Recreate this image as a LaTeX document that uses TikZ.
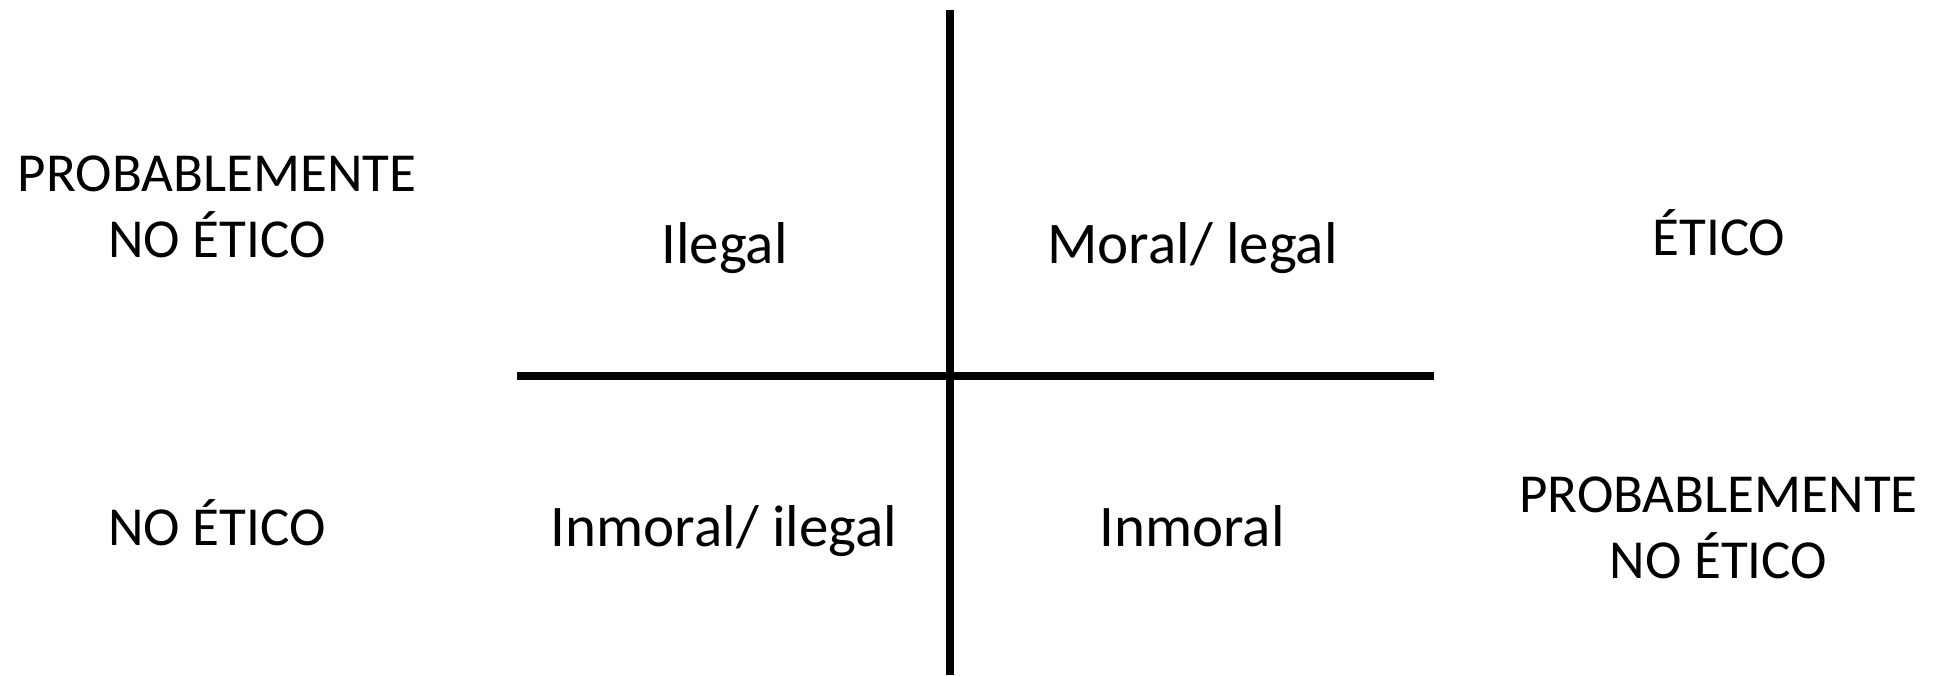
\documentclass[tikz,border=0pt]{standalone}
\usepackage{fontspec}
\setmainfont{Carlito}
\begin{document}
\begin{tikzpicture}[x=1pt,y=1pt,
  lbl/.style={inner sep=0pt,anchor=base,font=\fontsize{55}{66}\selectfont,align=center},
  qlbl/.style={lbl,font=\fontsize{59}{70}\selectfont},
  axis/.style={line width=8pt,line cap=butt}]
\useasboundingbox (0,0) rectangle (1942,675);
\coordinate (vtop) at (950,665);
\coordinate (vbot) at (950,0);
\coordinate (hl) at (517,299);
\coordinate (hr) at (1434,299);
\draw[axis] (vtop) -- (vbot);
\draw[axis] (hl) -- (hr);
\node[lbl] (pl) at (217,417) {PROBABLEMENTE\\NO ÉTICO};
\node[qlbl] (il) at (724.5,411) {Ilegal};
\node[qlbl] (ml) at (1192.5,411) {Moral/ legal};
\node[lbl] (et) at (1719,419) {ÉTICO};
\node[lbl] (ne) at (217,130) {NO ÉTICO};
\node[qlbl] (ii) at (724,129) {Inmoral/ ilegal};
\node[qlbl] (im) at (1192,129) {Inmoral};
\node[lbl] (pr) at (1718.5,97) {PROBABLEMENTE\\NO ÉTICO};
\end{tikzpicture}
\end{document}
